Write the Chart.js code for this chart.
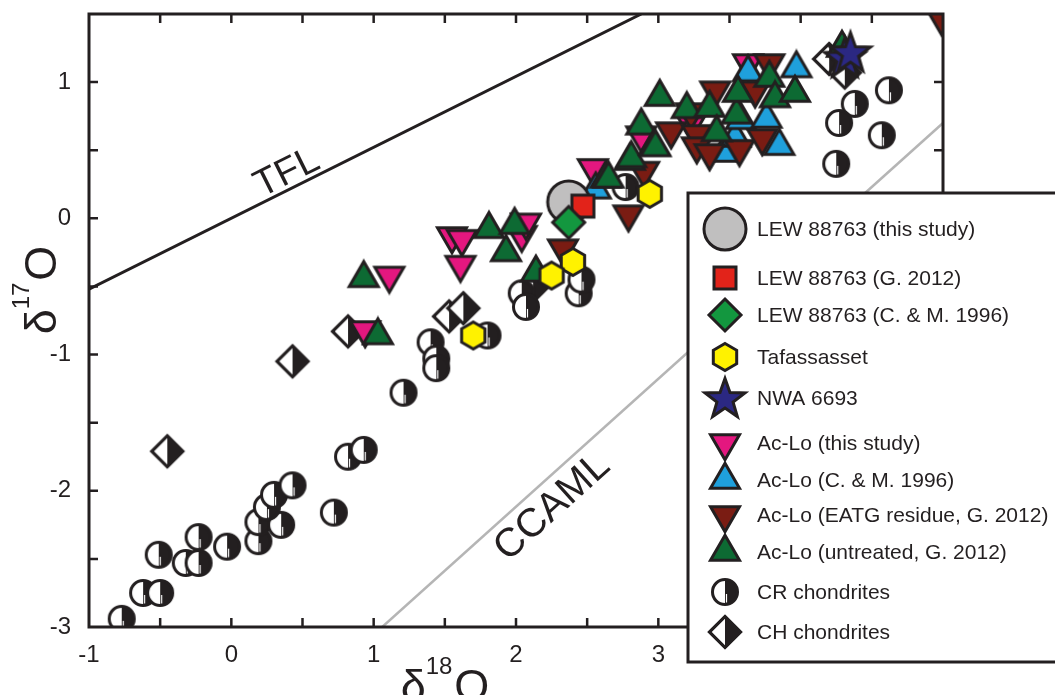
<!DOCTYPE html>
<html>
<head>
<meta charset="utf-8">
<script src="https://cdn.jsdelivr.net/npm/chart.js@4.4.1/dist/chart.umd.min.js"></script>
<style>
    html, body { margin: 0; padding: 0; background: #fff; }
    #wrap { width: 1055px; height: 695px; }
</style>
</head>
<body>
<div id="wrap"><canvas id="chart" width="1055" height="695"></canvas></div>
<script>
/* Diagrama de isótopos de oxigênio: δ17O vs δ18O */

// Dados [δ18O, δ17O]
const lewThisStudy = [[2.37, 0.12]];
const lewG2012 = [[2.47, 0.09]];
const lewCM1996 = [[2.37, -0.03]];
const tafassasset = [[2.94, 0.18], [2.40, -0.32], [2.25, -0.42], [1.70, -0.86]];
const nwa6693 = [[4.31, 1.18], [4.35, 1.22]];
const acloThisStudy = [
    [0.94, -0.82], [1.11, -0.42], [1.55, -0.13], [1.62, -0.15], [1.61, -0.34],
    [2.04, -0.12], [2.07, -0.03], [2.54, 0.37], [2.88, 0.61], [3.23, 0.70], [3.63, 1.14]
];
const acloCM1996 = [
    [2.56, 0.21], [3.46, 0.48], [3.54, 0.59], [3.58, 0.72], [3.76, 0.73],
    [3.85, 0.53], [3.63, 1.07], [3.97, 1.10]
];
const acloEatg = [
    [2.33, -0.22], [2.79, 0.03], [2.90, 0.35], [3.09, 0.64], [3.23, 0.78],
    [3.27, 0.62], [3.27, 0.53], [3.36, 0.48], [3.40, 0.94], [3.57, 0.51],
    [3.68, 0.94], [3.73, 0.59], [3.78, 1.14], [4.99, 1.47]
];
const acloUntreated = [
    [0.93, -0.44], [1.03, -0.86], [1.81, -0.08], [1.93, -0.25], [1.99, -0.05],
    [2.14, -0.40], [2.63, 0.29], [2.65, 0.29], [2.80, 0.42], [2.81, 0.44],
    [2.88, 0.68], [2.97, 0.53], [2.98, 0.52], [3.01, 0.89], [3.20, 0.80],
    [3.36, 0.81], [3.41, 0.63], [3.55, 0.76], [3.56, 0.92], [3.78, 1.03],
    [3.82, 0.88], [3.96, 0.92], [4.29, 1.25]
];
const crChondrites = [
    [-0.77, -2.94], [-0.62, -2.75], [-0.50, -2.75], [-0.51, -2.47], [-0.32, -2.53],
    [-0.23, -2.53], [-0.23, -2.34], [-0.03, -2.41], [0.19, -2.37], [0.19, -2.23],
    [0.35, -2.25], [0.25, -2.12], [0.30, -2.03], [0.43, -1.96], [0.72, -2.16],
    [0.82, -1.75], [0.93, -1.70], [1.21, -1.28], [1.40, -0.91], [1.44, -1.03],
    [1.44, -1.10], [1.80, -0.86], [2.04, -0.55], [2.07, -0.65], [2.44, -0.55],
    [2.46, -0.45], [2.77, 0.23], [4.62, 0.94], [4.38, 0.84], [4.27, 0.70],
    [4.57, 0.61], [4.25, 0.40]
];
const chChondrites = [
    [-0.45, -1.71], [0.43, -1.05], [0.82, -0.83], [1.53, -0.72], [1.63, -0.66],
    [2.12, -0.50], [4.20, 1.17], [4.31, 1.07]
];
const tflLine = [[-1, -0.52], [2.88, 1.50]];
const ccamlLine = [[1.06, -3.0], [5.0, 0.70]];

const xTickLabels = [-1, 0, 1, 2, 3, 4, 5];
const yTickLabels = [-3, -2, -1, 0, 1];

const legendLabels = [
    'LEW 88763 (this study)', 'LEW 88763 (G. 2012)', 'LEW 88763 (C. & M. 1996)',
    'Tafassasset', 'NWA 6693', 'Ac-Lo (this study)', 'Ac-Lo (C. & M. 1996)',
    'Ac-Lo (EATG residue, G. 2012)', 'Ac-Lo (untreated, G. 2012)',
    'CR chondrites', 'CH chondrites'
];

const INK = '#231f20';
const FONT = '"Liberation Sans", Arial, sans-serif';

// Criar marcadores desenhados em canvas
function criarMarcador(size, draw) {
    const c = document.createElement('canvas');
    c.width = size;
    c.height = size;
    const ctx = c.getContext('2d');
    ctx.lineWidth = 3;
    ctx.strokeStyle = INK;
    ctx.lineJoin = 'miter';
    ctx.miterLimit = 4;
    draw(ctx, size / 2, size / 2);
    return c;
}

function poligono(ctx, pts, fill) {
    ctx.beginPath();
    pts.forEach((p, i) => i ? ctx.lineTo(p[0], p[1]) : ctx.moveTo(p[0], p[1]));
    ctx.closePath();
    ctx.fillStyle = fill;
    ctx.fill();
    ctx.stroke();
}

function triangulo(color, down) {
    return criarMarcador(40, (ctx, cx, cy) => {
        const s = 29, h = s * Math.sqrt(3) / 2, k = down ? -1 : 1;
        poligono(ctx, [
            [cx, cy - k * 2 * h / 3],
            [cx - s / 2, cy + k * h / 3],
            [cx + s / 2, cy + k * h / 3]
        ], color);
    });
}

const mk = {
    circulo: criarMarcador(48, (ctx, cx, cy) => {
        ctx.beginPath();
        ctx.arc(cx, cy, 21, 0, Math.PI * 2);
        ctx.fillStyle = '#c0bfbf';
        ctx.fill();
        ctx.stroke();
    }),
    quadrado: criarMarcador(28, (ctx, cx, cy) => {
        poligono(ctx, [[cx - 11, cy - 11], [cx + 11, cy - 11], [cx + 11, cy + 11], [cx - 11, cy + 11]], '#e2231a');
    }),
    losango: criarMarcador(38, (ctx, cx, cy) => {
        const d = 16;
        poligono(ctx, [[cx, cy - d], [cx + d, cy], [cx, cy + d], [cx - d, cy]], '#13973f');
    }),
    hexagono: criarMarcador(34, (ctx, cx, cy) => {
        const pts = [];
        for (let i = 0; i < 6; i++) {
            const a = -Math.PI / 2 + i * Math.PI / 3;
            pts.push([cx + 13.5 * Math.cos(a), cy + 13.5 * Math.sin(a)]);
        }
        poligono(ctx, pts, '#fff200');
    }),
    estrela: criarMarcador(50, (ctx, cx, cy) => {
        const pts = [];
        for (let i = 0; i < 10; i++) {
            const a = -Math.PI / 2 + i * Math.PI / 5;
            const r = i % 2 ? 8.5 : 21;
            pts.push([cx + r * Math.cos(a), cy + 1.5 + r * Math.sin(a)]);
        }
        poligono(ctx, pts, '#2b2882');
    }),
    magenta: triangulo('#e4177f', true),
    azul: triangulo('#1fa0dc', false),
    vinho: triangulo('#7a1c13', true),
    verde: triangulo('#0d6a33', false),
    cr: criarMarcador(34, (ctx, cx, cy) => {
        const r = 12.5;
        ctx.beginPath();
        ctx.arc(cx, cy, r, 0, Math.PI * 2);
        ctx.fillStyle = '#fff';
        ctx.fill();
        ctx.beginPath();
        ctx.arc(cx, cy, r, -Math.PI / 2, Math.PI / 2);
        ctx.closePath();
        ctx.fillStyle = INK;
        ctx.fill();
        ctx.beginPath();
        ctx.arc(cx, cy, r, 0, Math.PI * 2);
        ctx.stroke();
        ctx.strokeStyle = '#fff';
        ctx.lineWidth = 1.2;
        ctx.beginPath();
        ctx.moveTo(cx + 1.5, cy + 2);
        ctx.lineTo(cx + 1.5, cy + r - 2);
        ctx.stroke();
    }),
    ch: criarMarcador(38, (ctx, cx, cy) => {
        const d = 15.5;
        const pts = [[cx, cy - d], [cx + d, cy], [cx, cy + d], [cx - d, cy]];
        poligono(ctx, pts, '#fff');
        ctx.beginPath();
        ctx.moveTo(cx, cy - d);
        ctx.lineTo(cx + d, cy);
        ctx.lineTo(cx, cy + d);
        ctx.closePath();
        ctx.fillStyle = INK;
        ctx.fill();
        ctx.beginPath();
        pts.forEach((p, i) => i ? ctx.lineTo(p[0], p[1]) : ctx.moveTo(p[0], p[1]));
        ctx.closePath();
        ctx.stroke();
    })
};

// Séries na ordem da legenda; "ordem" controla a sobreposição
const series = [
    { dados: lewThisStudy, marcador: mk.circulo, ordem: 4 },
    { dados: lewG2012, marcador: mk.quadrado, ordem: 3 },
    { dados: lewCM1996, marcador: mk.losango, ordem: 2 },
    { dados: tafassasset, marcador: mk.hexagono, ordem: 1 },
    { dados: nwa6693, marcador: mk.estrela, ordem: 0 },
    { dados: acloThisStudy, marcador: mk.magenta, ordem: 8 },
    { dados: acloCM1996, marcador: mk.azul, ordem: 7 },
    { dados: acloEatg, marcador: mk.vinho, ordem: 6 },
    { dados: acloUntreated, marcador: mk.verde, ordem: 5 },
    { dados: crChondrites, marcador: mk.cr, ordem: 9 },
    { dados: chChondrites, marcador: mk.ch, ordem: 10 }
];

const toXY = arr => arr.map(p => ({ x: p[0], y: p[1] }));

const datasets = series.map((s, i) => ({
    label: legendLabels[i],
    data: toXY(s.dados),
    pointStyle: s.marcador,
    pointRadius: 12,
    showLine: false,
    clip: 0,
    order: s.ordem
}));

datasets.push({
    label: 'TFL',
    data: toXY(tflLine),
    showLine: true,
    borderColor: INK,
    borderWidth: 3,
    pointRadius: 0,
    clip: 0,
    order: 20
});
datasets.push({
    label: 'CCAML',
    data: toXY(ccamlLine),
    showLine: true,
    borderColor: '#b5b5b5',
    borderWidth: 2.5,
    pointRadius: 0,
    clip: 0,
    order: 20
});

// Moldura, marcas internas, rótulos das linhas, títulos e legenda
const decoracao = {
    id: 'decoracao',
    afterDatasetsDraw(chart) {
        const ctx = chart.ctx;
        const { left, right, top, bottom } = chart.chartArea;
        const xs = chart.scales.x, ys = chart.scales.y;
        ctx.save();
        ctx.strokeStyle = INK;
        ctx.fillStyle = INK;

        // marcas para dentro nos quatro lados
        ctx.lineWidth = 2.5;
        ctx.beginPath();
        xs.ticks.forEach(t => {
            const px = xs.getPixelForValue(t.value);
            if (px <= left + 1 || px >= right - 1) return;
            ctx.moveTo(px, bottom); ctx.lineTo(px, bottom - 9);
            ctx.moveTo(px, top); ctx.lineTo(px, top + 9);
        });
        ys.ticks.forEach(t => {
            const py = ys.getPixelForValue(t.value);
            if (py <= top + 1 || py >= bottom - 1) return;
            ctx.moveTo(left, py); ctx.lineTo(left + 9, py);
            ctx.moveTo(right, py); ctx.lineTo(right - 9, py);
        });
        ctx.stroke();

        // moldura
        ctx.lineWidth = 3;
        ctx.strokeRect(left, top, right - left, bottom - top);

        // rótulos TFL e CCAML ao longo das linhas
        const rotuloLinha = (texto, linha, atX, acima, gap, size) => {
            const p0 = { x: xs.getPixelForValue(linha[0][0]), y: ys.getPixelForValue(linha[0][1]) };
            const p1 = { x: xs.getPixelForValue(linha[1][0]), y: ys.getPixelForValue(linha[1][1]) };
            const ang = Math.atan2(p1.y - p0.y, p1.x - p0.x);
            const f = (atX - linha[0][0]) / (linha[1][0] - linha[0][0]);
            const ay = linha[0][1] + f * (linha[1][1] - linha[0][1]);
            ctx.save();
            ctx.translate(xs.getPixelForValue(atX), ys.getPixelForValue(ay));
            ctx.rotate(ang);
            ctx.font = size + 'px ' + FONT;
            ctx.textAlign = 'center';
            ctx.textBaseline = 'alphabetic';
            ctx.fillStyle = INK;
            ctx.fillText(texto, 0, acima ? -gap : gap + size * 0.716);
            ctx.restore();
        };
        rotuloLinha('TFL', tflLine, 0.44, true, 5, 38);
        rotuloLinha('CCAML', ccamlLine, 2.14, false, 7, 40);

        // títulos dos eixos com sobrescrito
        const titulo = (cx, cy, rot, sup) => {
            ctx.save();
            ctx.translate(cx, cy);
            ctx.rotate(rot);
            ctx.textBaseline = 'alphabetic';
            ctx.textAlign = 'left';
            ctx.font = '45px ' + FONT;
            const wd = ctx.measureText('δ').width;
            const wo = ctx.measureText('O').width;
            ctx.font = '24px ' + FONT;
            const ws = ctx.measureText(sup).width;
            let x = -(wd + ws + wo + 2) / 2;
            ctx.font = '45px ' + FONT;
            ctx.fillText('δ', x, 0);
            x += wd;
            ctx.font = '24px ' + FONT;
            ctx.fillText(sup, x, -27);
            x += ws + 2;
            ctx.font = '45px ' + FONT;
            ctx.fillText('O', x, 0);
            ctx.restore();
        };
        titulo(445, 701, 0, '18');
        titulo(56, 290, -Math.PI / 2, '17');

        // legenda
        const lx = 688, ly = 193, lh = 469;
        ctx.fillStyle = '#fff';
        ctx.fillRect(lx, ly, 400, lh);
        ctx.lineWidth = 3;
        ctx.strokeStyle = INK;
        ctx.strokeRect(lx, ly, 400, lh);
        const linhas = [36, 85, 122, 164, 205, 250, 287, 322, 359, 399, 439];
        ctx.font = '21px ' + FONT;
        ctx.textAlign = 'left';
        ctx.textBaseline = 'middle';
        series.forEach((s, i) => {
            const y = ly + linhas[i];
            const m = s.marcador;
            ctx.drawImage(m, 725 - m.width / 2, y - m.height / 2);
            ctx.fillStyle = INK;
            ctx.fillText(legendLabels[i], 757, y + 1);
        });
        ctx.restore();
    }
};

const rotuloTick = (lista) => (v) => lista.some(t => Math.abs(t - v) < 1e-6) ? String(Math.round(v)) : '';

new Chart(document.getElementById('chart'), {
    type: 'scatter',
    data: { datasets: datasets },
    options: {
        responsive: false,
        animation: false,
        devicePixelRatio: 1,
        events: [],
        layout: { padding: { top: 14, right: 112, left: 0, bottom: 0 } },
        plugins: {
            legend: { display: false },
            tooltip: { enabled: false }
        },
        scales: {
            x: {
                type: 'linear',
                min: -1,
                max: 5,
                grid: { display: false, drawTicks: false },
                border: { display: false },
                ticks: {
                    stepSize: 0.5,
                    autoSkip: false,
                    maxRotation: 0,
                    padding: 14,
                    color: INK,
                    font: { family: FONT, size: 24 },
                    callback: rotuloTick(xTickLabels)
                },
                afterFit: (s) => { s.height = 68; s.paddingLeft = 0; s.paddingRight = 0; }
            },
            y: {
                type: 'linear',
                min: -3,
                max: 1.5,
                grid: { display: false, drawTicks: false },
                border: { display: false },
                ticks: {
                    stepSize: 0.5,
                    autoSkip: false,
                    padding: 18,
                    color: INK,
                    font: { family: FONT, size: 24 },
                    callback: rotuloTick(yTickLabels)
                },
                afterFit: (s) => { s.width = 89; s.paddingTop = 0; s.paddingBottom = 0; }
            }
        }
    },
    plugins: [decoracao]
});
</script>
</body>
</html>
